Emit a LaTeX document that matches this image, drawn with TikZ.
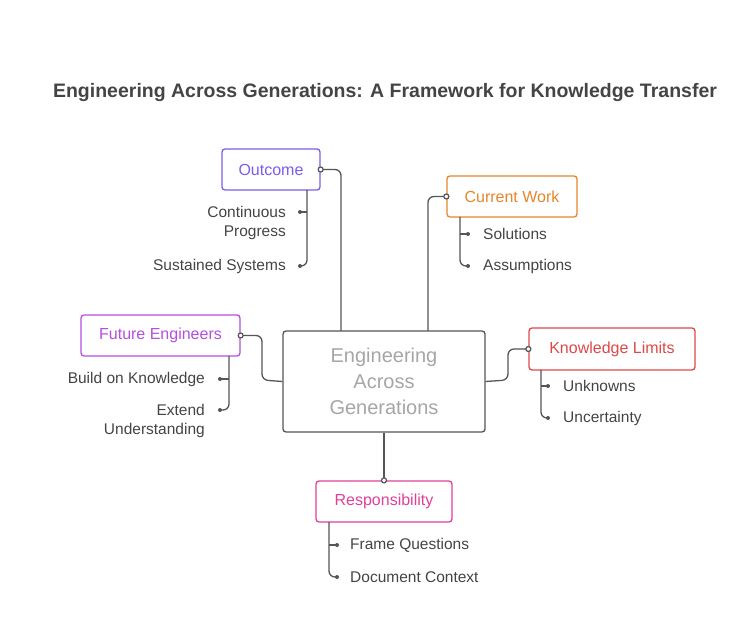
\documentclass[tikz,border=0pt]{standalone}
\usepackage{fontspec}
\setmainfont{Liberation Sans}
\definecolor{tx}{HTML}{444444}
\definecolor{ln}{HTML}{555555}
\definecolor{cout}{HTML}{7B5CF0}
\definecolor{ccur}{HTML}{E6862B}
\definecolor{cfut}{HTML}{B44FE0}
\definecolor{clim}{HTML}{E04848}
\definecolor{cres}{HTML}{E0409A}
\begin{document}
\begin{tikzpicture}[x=1pt,y=-1pt,
  box/.style={draw=#1,text=#1,line width=1.3pt,rounded corners=3pt,fill=white,inner sep=0pt,font=\fontsize{16}{19}\selectfont},
  lab/.style={text=tx,font=\fontsize{15.5}{19}\selectfont,inner sep=0pt,align=#1},
  con/.style={draw=ln,line width=1.3pt,rounded corners=6pt},
  dot/.style={circle,draw=ln,fill=white,line width=1.2pt,inner sep=0pt,minimum size=5pt},
  sdot/.style={circle,fill=ln,inner sep=0pt,minimum size=4pt}]
\useasboundingbox (0,0) rectangle (755,617);
\node[text=tx,font=\bfseries\fontsize{19.5}{23}\selectfont] (title) at (385,93) {Engineering Across Generations: A Framework for Knowledge Transfer};
% center
\node[box=ln,text=gray!70,minimum width=202pt,minimum height=101pt,align=center,font=\fontsize{20}{26}\selectfont] (c) at (384,381.5) {Engineering\\Across\\Generations};
% boxes
\node[box=cout,minimum width=98pt,minimum height=41pt] (o) at (271,169.5) {Outcome};
\node[box=ccur,minimum width=130pt,minimum height=41pt] (w) at (512,196.5) {Current Work};
\node[box=cfut,minimum width=159pt,minimum height=41pt] (f) at (160.5,335.5) {Future Engineers};
\node[box=clim,minimum width=166pt,minimum height=42pt] (k) at (612,349) {Knowledge Limits};
\node[box=cres,minimum width=136pt,minimum height=41pt] (r) at (384,501.5) {Responsibility};
% main connectors
\draw[con] (o.east) -| (341,331);
\draw[con] (w.west) -| (428,331);
\draw[con] (f.east) -| (262,380) -- (c.west);
\draw[con] (k.west) -| (508,380) -- (c.east);
\draw[con] (r.north) -- (c.south);
\node[dot] at (o.east) {};
\node[dot] at (w.west) {};
\node[dot] at (f.east) {};
\node[dot] at (k.west) {};
\node[dot] at (r.north) {};
% children
\coordinate (o1) at (300,212); \coordinate (o2) at (300,266);
\draw[con] (307,190) |- (o2); \draw[con] (307,212) -- (o1);
\node[sdot] at (o1) {}; \node[sdot] at (o2) {};
\node[lab=right,anchor=east] (ot1) at (286,223) {Continuous\\Progress};
\node[lab=right,anchor=east] (ot2) at (286,266) {Sustained Systems};

\coordinate (w1) at (468,234); \coordinate (w2) at (468,266);
\draw[con] (460,217) |- (w2); \draw[con] (460,234) -- (w1);
\node[sdot] at (w1) {}; \node[sdot] at (w2) {};
\node[lab=left,anchor=west] (wt1) at (483,234) {Solutions};
\node[lab=left,anchor=west] (wt2) at (483,266) {Assumptions};

\coordinate (f1) at (220,379); \coordinate (f2) at (220,410);
\draw[con] (229,356) |- (f2); \draw[con] (229,379) -- (f1);
\node[sdot] at (f1) {}; \node[sdot] at (f2) {};
\node[lab=right,anchor=east] (ft1) at (205,379) {Build on Knowledge};
\node[lab=right,anchor=east] (ft2) at (205,421) {Extend\\Understanding};

\coordinate (k1) at (548,386); \coordinate (k2) at (548,418);
\draw[con] (541,370) |- (k2); \draw[con] (541,386) -- (k1);
\node[sdot] at (k1) {}; \node[sdot] at (k2) {};
\node[lab=left,anchor=west] (kt1) at (563,386) {Unknowns};
\node[lab=left,anchor=west] (kt2) at (563,418) {Uncertainty};

\coordinate (r1) at (337,545); \coordinate (r2) at (337,577);
\draw[con] (329,522) |- (r2); \draw[con] (329,545) -- (r1);
\node[sdot] at (r1) {}; \node[sdot] at (r2) {};
\node[lab=left,anchor=west] (rt1) at (350,545) {Frame Questions};
\node[lab=left,anchor=west] (rt2) at (350,577) {Document Context};
\end{tikzpicture}
\end{document}
